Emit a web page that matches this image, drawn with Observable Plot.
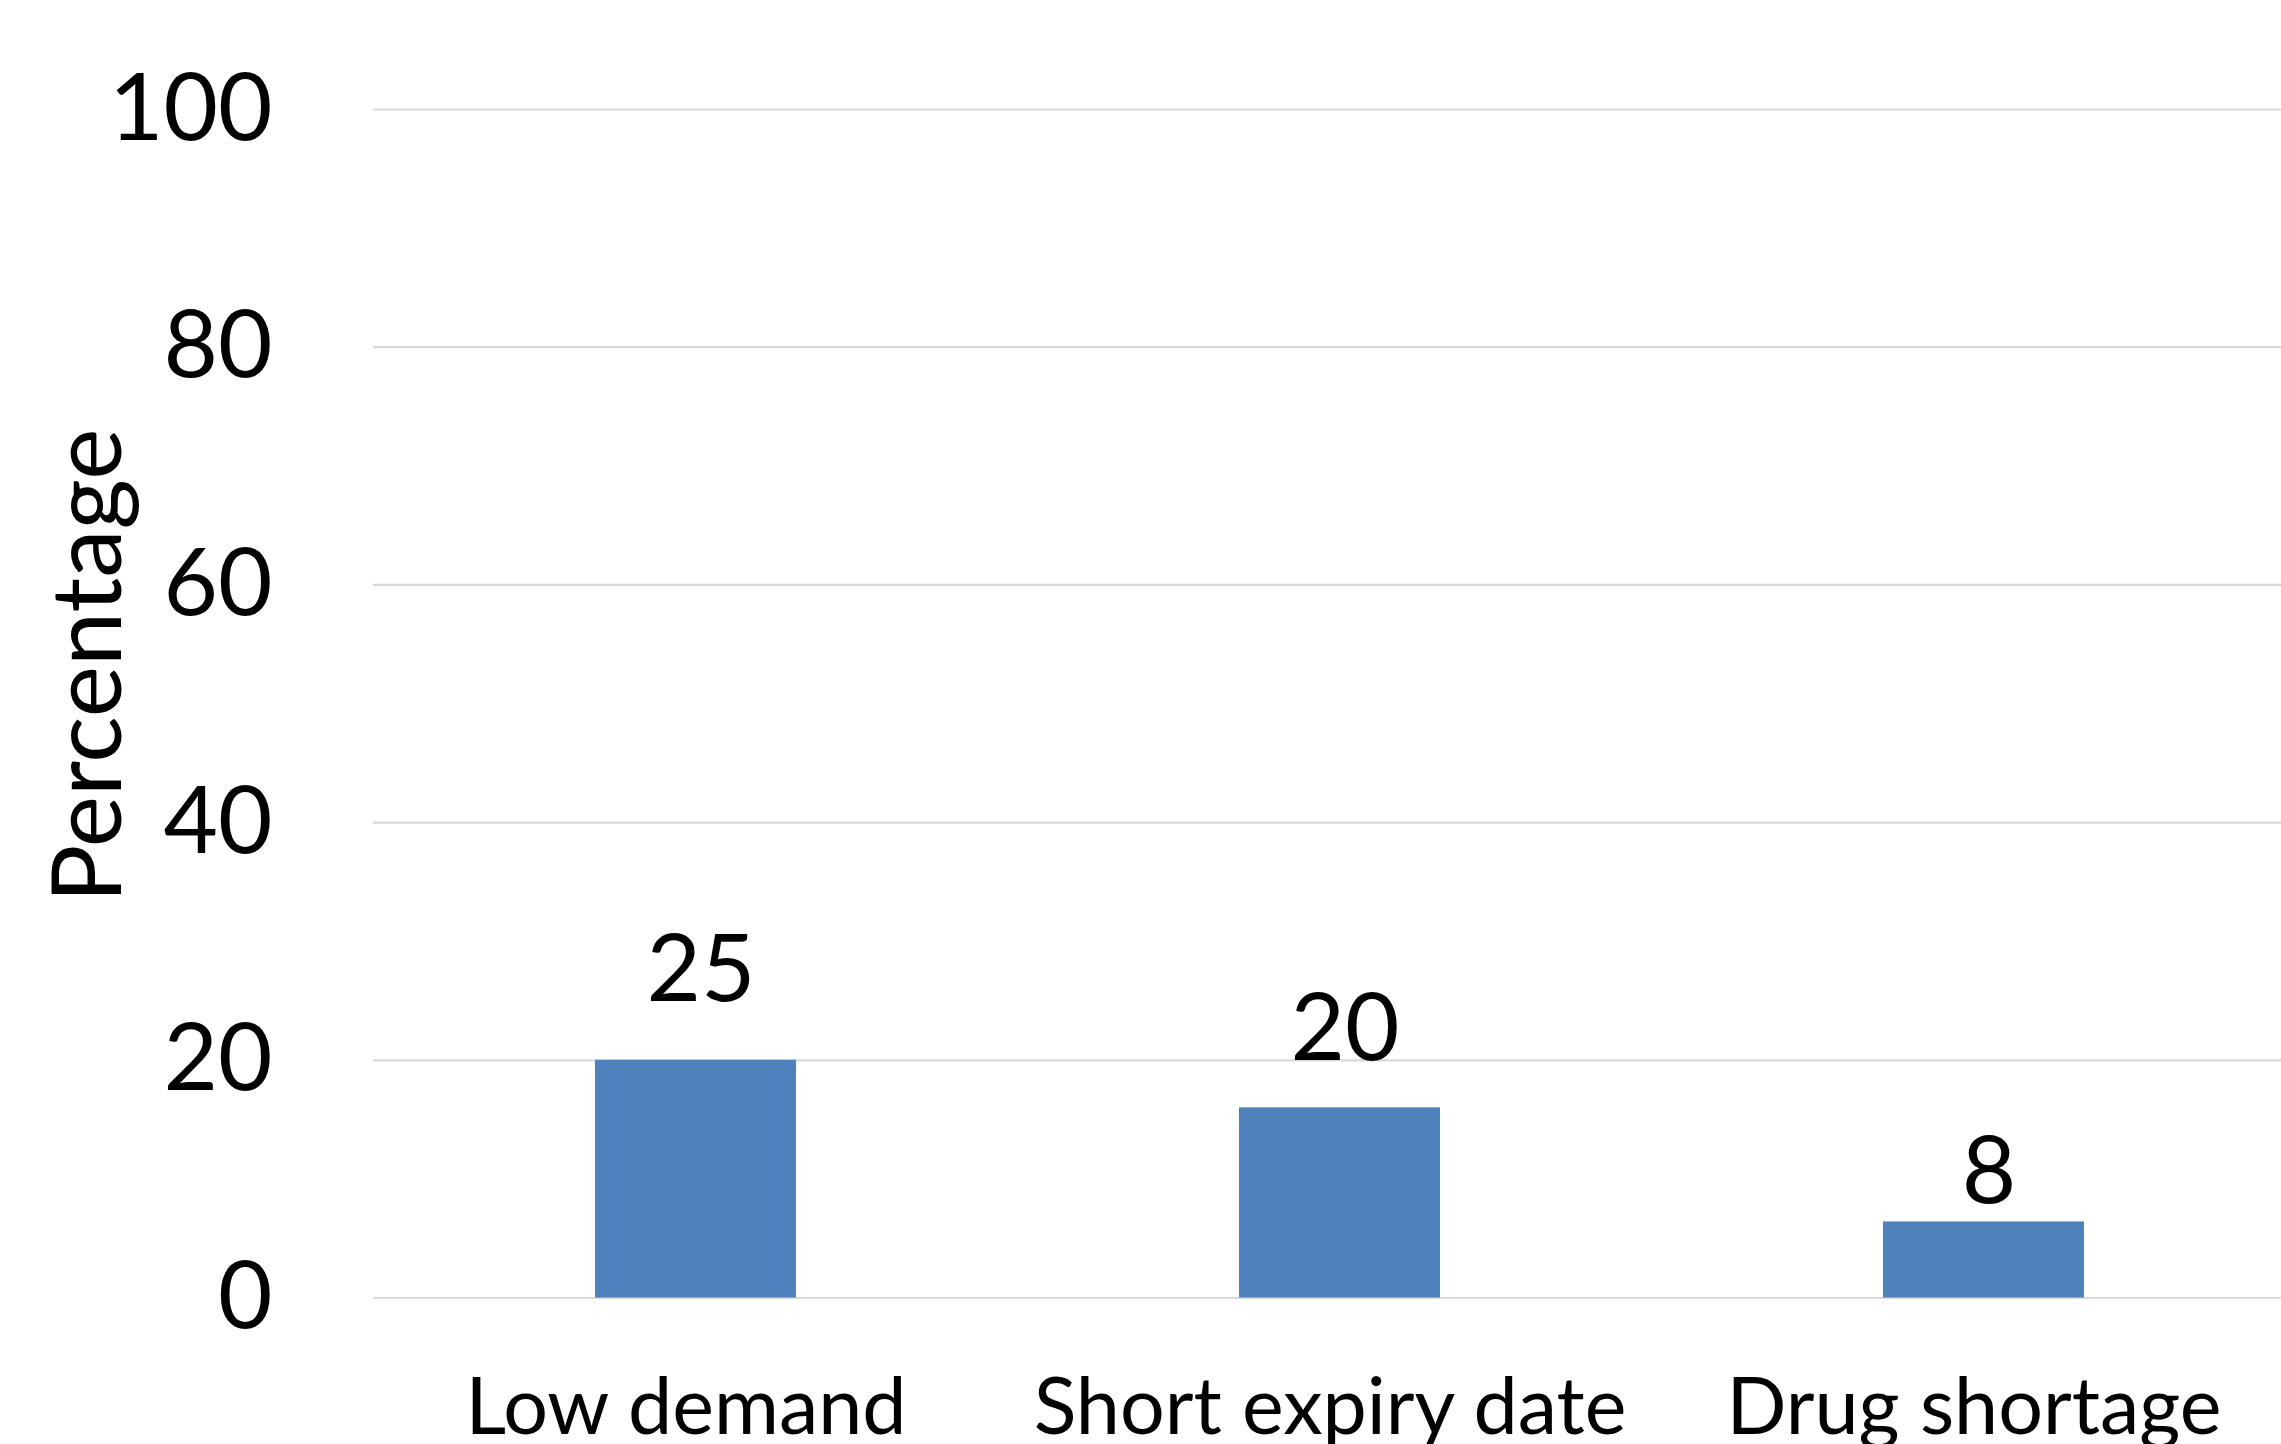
<!DOCTYPE html>
<html>
<head>
<meta charset="utf-8">
<script src="https://cdn.jsdelivr.net/npm/d3@7"></script>
<script src="https://cdn.jsdelivr.net/npm/@observablehq/plot@0.6"></script>
<style>
  html, body { margin: 0; padding: 0; background: white; overflow: hidden; }
</style>
</head>
<body>
<div id="chart"></div>
<script>
const categories = ["Low demand", "Short expiry date", "Drug shortage"];
const barValues = [20, 16, 6.4];
const labelValues = [25, 20, 8];
const yTicks = [0, 20, 40, 60, 80, 100];
const yLabel = "Percentage";

const rows = categories.map((c, i) => ({category: c, bar: barValues[i], label: labelValues[i]}));

const font = "Lato, 'Open Sans', sans-serif";

const chart = Plot.plot({
  width: 2281,
  height: 1444,
  marginLeft: 373,
  marginRight: 0,
  marginTop: 109,
  marginBottom: 146.5,
  style: {fontFamily: font, background: "white", color: "black"},
  x: {domain: categories, range: [373, 2305], paddingInner: 0.688, paddingOuter: 0.344},
  y: {domain: [0, 100]},
  marks: [
    Plot.gridY(yTicks, {stroke: "#D9D9D9", strokeOpacity: 1, strokeWidth: 2.2}),
    Plot.barY(rows, {x: "category", y: "bar", fill: "#4F81BD"}),
    Plot.text(rows, {x: "category", y: "label", text: d => String(d.label), lineAnchor: "bottom", dx: 5, fontSize: 94, fill: "black"}),
    Plot.axisY({ticks: yTicks, tickSize: 0, tickPadding: 101, fontSize: 94, label: null}),
    Plot.axisX({tickSize: 0, tickPadding: 80, dx: -10, fontSize: 79, label: null}),
    Plot.text([yLabel], {frameAnchor: "left", text: d => d, rotate: -90, dx: -253, dy: -38, lineAnchor: "bottom", textAnchor: "middle", fontSize: 97, fill: "black"})
  ]
});
document.getElementById("chart").appendChild(chart);
</script>
</body>
</html>
